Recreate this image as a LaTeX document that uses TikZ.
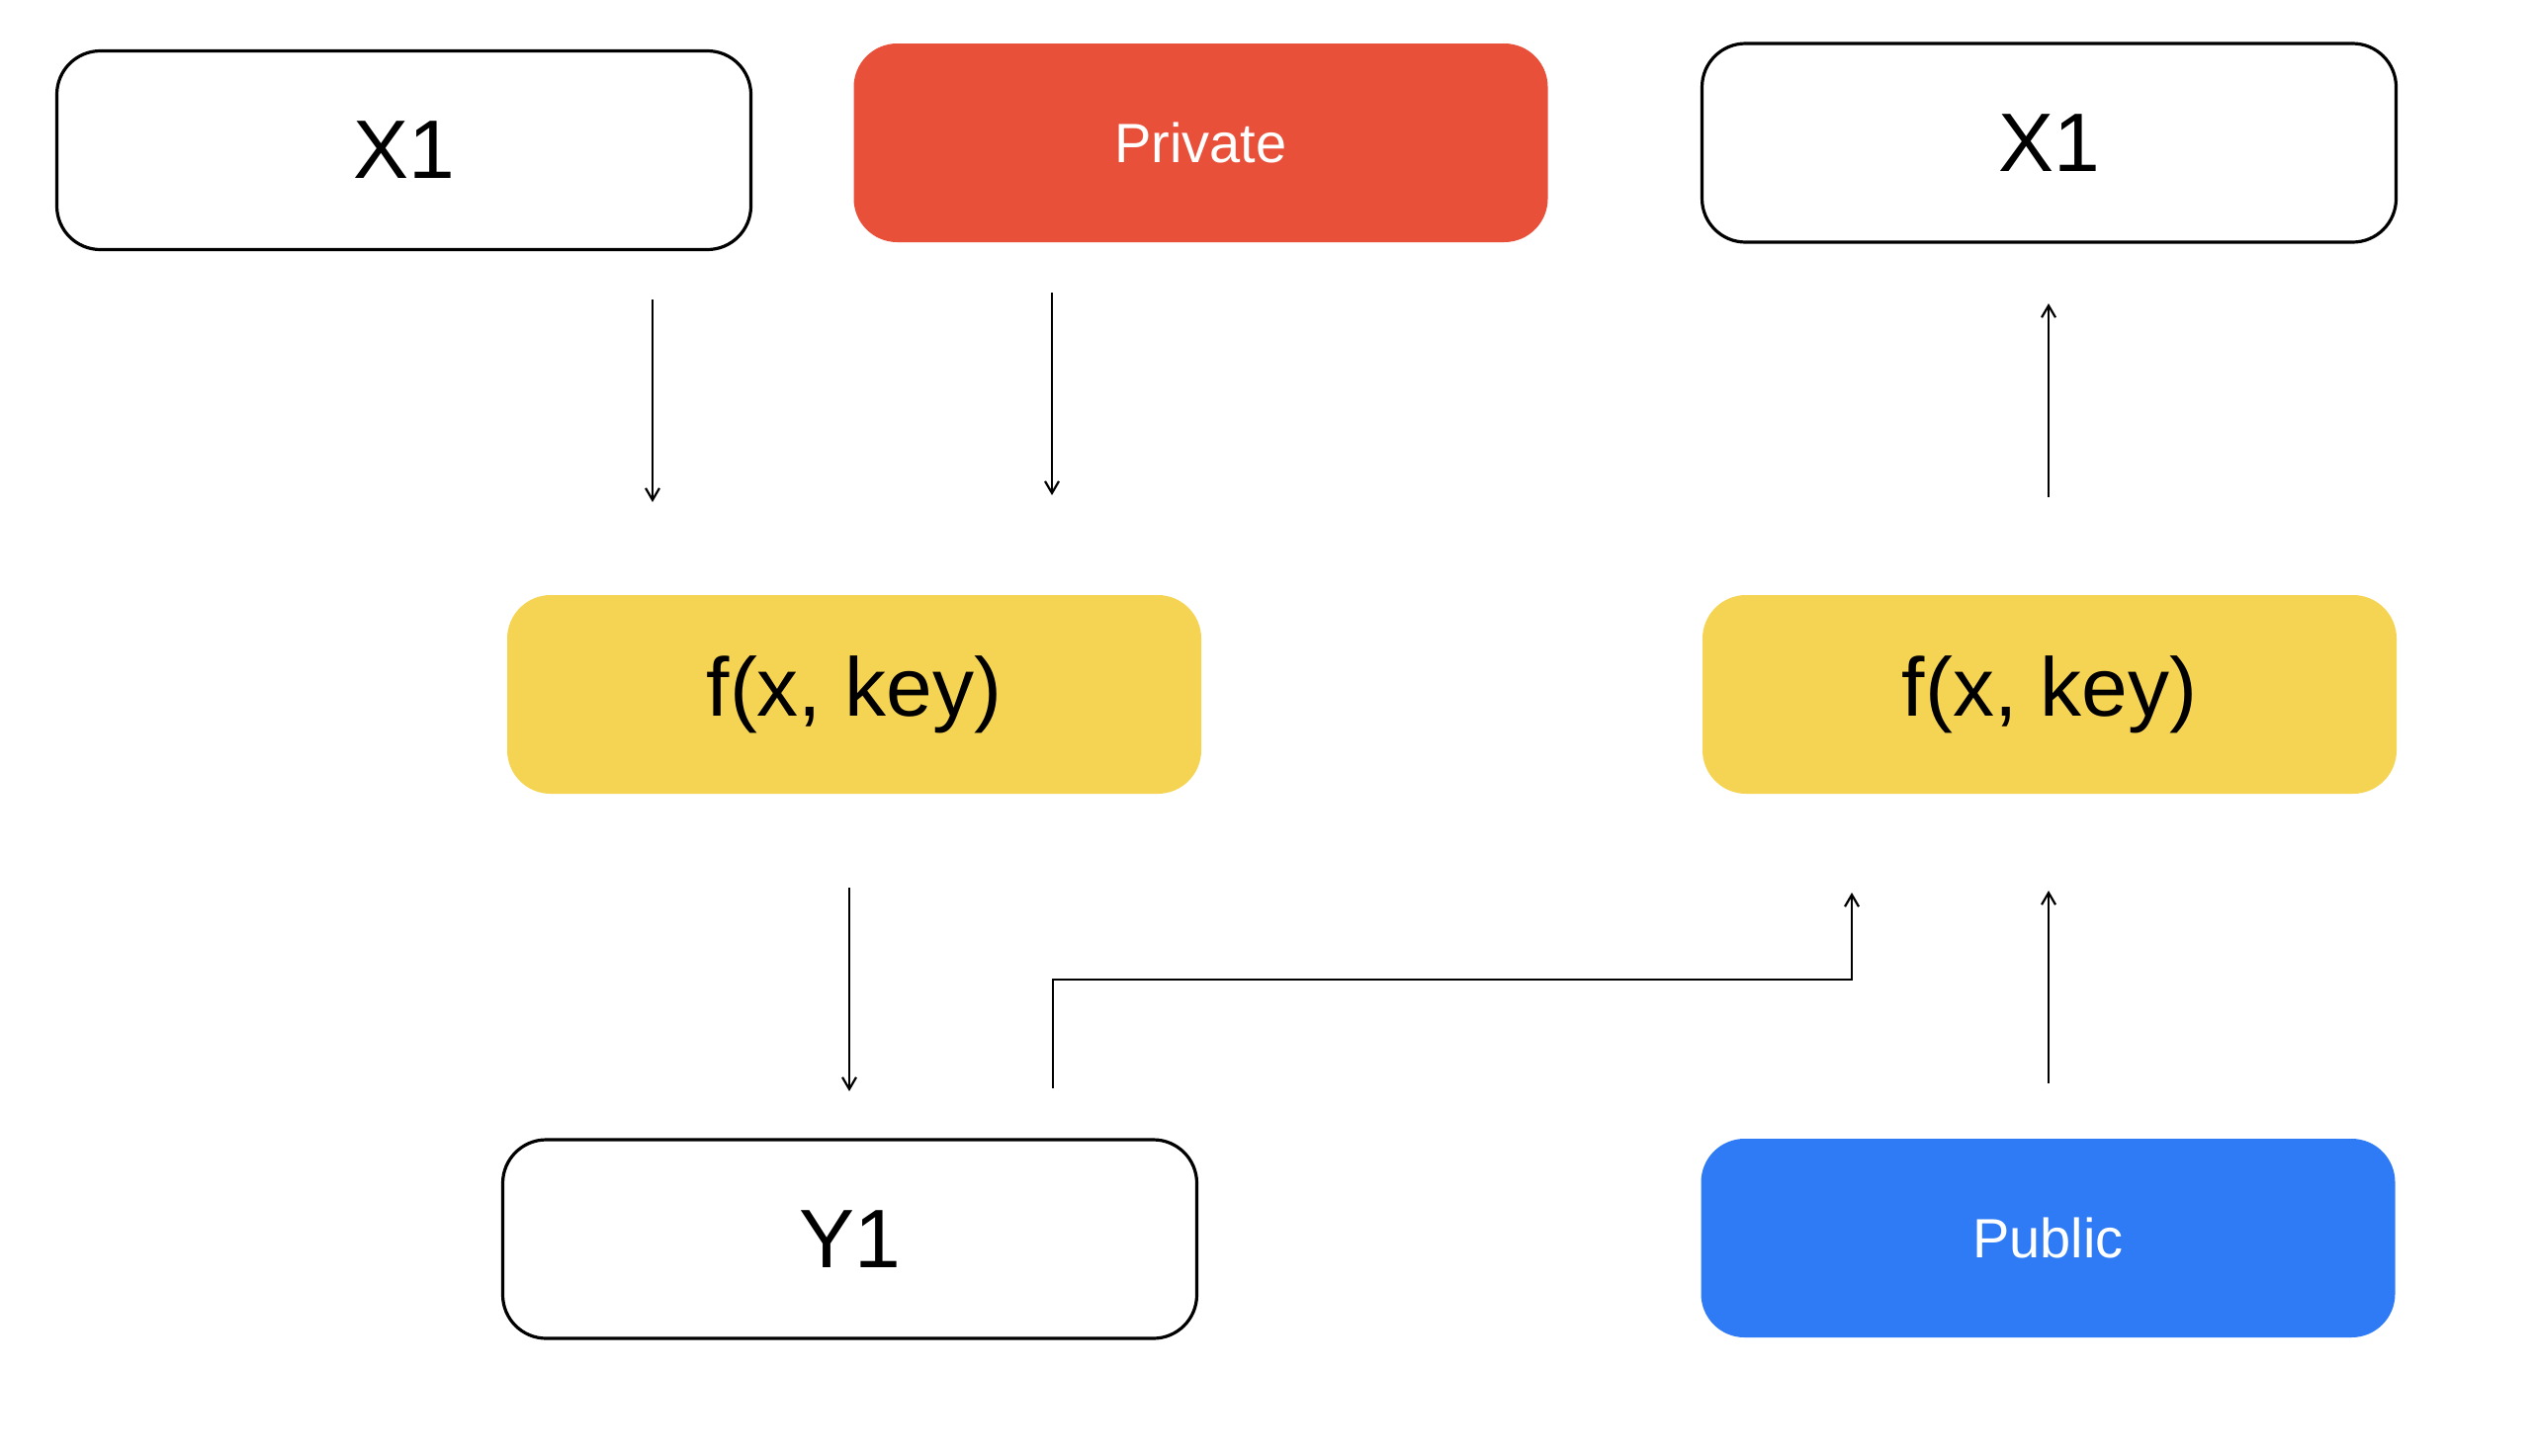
\documentclass[tikz,border=0pt]{standalone}
\usepackage{fontspec}
\setmainfont{Liberation Sans}
\usetikzlibrary{arrows.meta}
\definecolor{cred}{HTML}{E9503A}
\definecolor{cyel}{HTML}{F6D453}
\definecolor{cblue}{HTML}{2F7BF6}
\tikzset{
  box/.style={rounded corners=22pt, minimum width=351pt, minimum height=100.5pt, inner sep=0pt, outer sep=0pt},
  whitebox/.style={box, draw=black, line width=1.6pt, fill=white, font=\fontsize{42}{48}\selectfont},
  yelbox/.style={box, fill=cyel, font=\fontsize{42}{48}\selectfont},
  keybox/.style={box, text=white, font=\fontsize{28}{32}\selectfont},
  arr/.style={line width=1.1pt, -{Straight Barb[length=6pt,width=7pt,line width=1.1pt]}},
}
\begin{document}
\begin{tikzpicture}[x=0.5pt,y=-0.5pt]
\useasboundingbox (0,0) rectangle (2562,1472);
\node[whitebox] (x1l) at (408.5,152) {X1};
\node[keybox, fill=cred] (priv) at (1214.5,144.5) {Private};
\node[whitebox] (x1r) at (2072.5,144.5) {X1};
\node[yelbox] (fl) at (864,702.5) {\raisebox{-2pt}{f(x, key)}};
\node[yelbox] (fr) at (2073,702.5) {\raisebox{-2pt}{f(x, key)}};
\node[whitebox] (y1) at (859.5,1253.5) {Y1};
\node[keybox, fill=cblue] (pub) at (2071.5,1252.5) {Public};
\coordinate (c1) at (660,0);
\coordinate (c2) at (1064,0);
\coordinate (c3) at (859,0);
\coordinate (c4) at (1065,0);
\coordinate (c5) at (1873,0);
\coordinate (c6) at (2072,0);
\draw[arr] ([yshift=-25pt]x1l.south -| c1) -- ([yshift=47pt]fl.north -| c1);
\draw[arr] ([yshift=-25.5pt]priv.south -| c2) -- ([yshift=50.5pt]fl.north -| c2);
\draw[arr] ([yshift=-47.5pt]fl.south -| c3) -- ([yshift=24.5pt]y1.north -| c3);
\draw[arr] ([yshift=26pt]y1.north -| c4) -- ([yshift=-94pt]fr.south -| c4) -- ([yshift=-94pt]fr.south -| c5) -- ([yshift=-50pt]fr.south -| c5);
\draw[arr] ([yshift=28pt]pub.north -| c6) -- ([yshift=-49pt]fr.south -| c6);
\draw[arr] ([yshift=49.5pt]fr.north -| c6) -- ([yshift=-31pt]x1r.south -| c6);
\end{tikzpicture}
\end{document}
